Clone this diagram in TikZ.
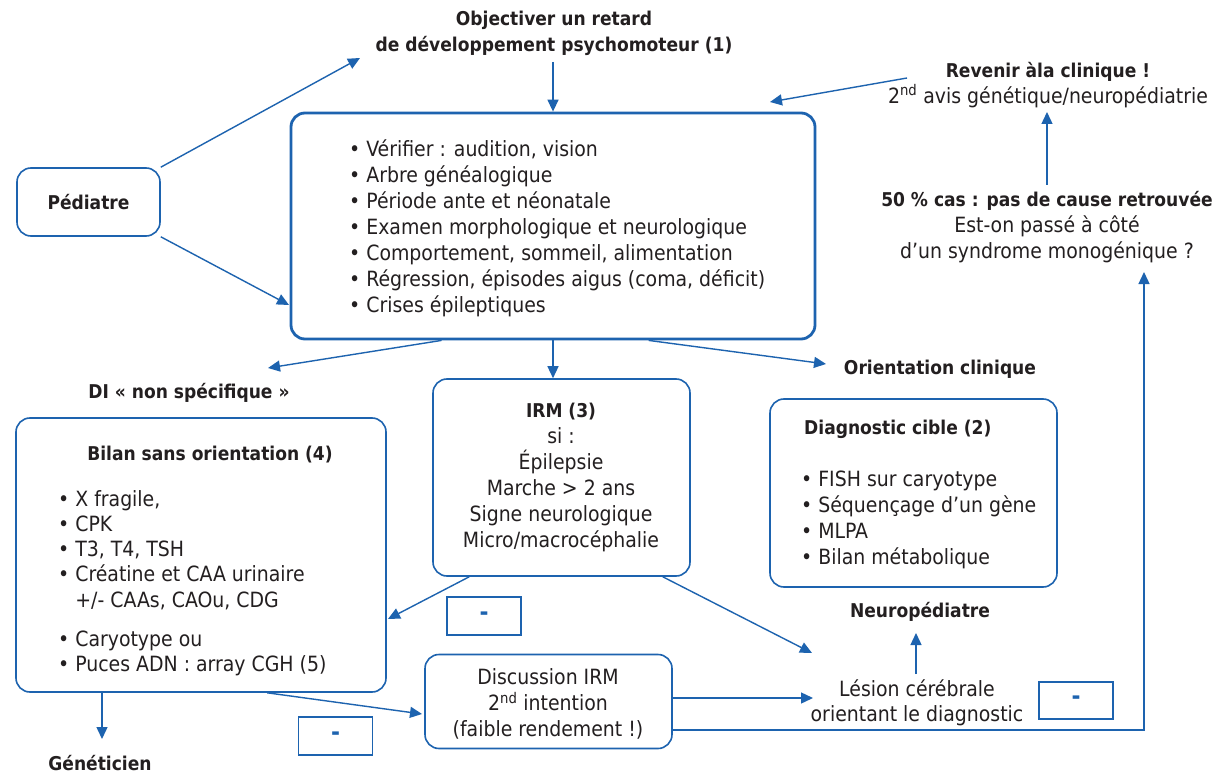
\documentclass[tikz,border=0pt]{standalone}
\usepackage{fontspec}
\setmainfont{DejaVu Sans Condensed}
\usetikzlibrary{arrows.meta,calc}
\definecolor{lineblue}{HTML}{1D63AF}
\definecolor{ink}{HTML}{231F20}
\begin{document}
\begin{tikzpicture}[x=1pt,y=-1pt,
  every node/.style={text=ink, inner sep=0pt, font=\fontsize{21}{26}\selectfont},
  conn/.style={draw=lineblue, line width=1.4pt, -{Triangle[length=12pt,width=11pt]}},
  roundbox/.style={draw=lineblue, line width=1.6pt, rounded corners=14pt},
  minusbox/.style={draw=lineblue, line width=1.6pt, minimum width=74pt, minimum height=38pt,
    text=lineblue, font=\bfseries\fontsize{24}{26}\selectfont},
  hd/.style={font=\bfseries\fontsize{19}{26}\selectfont},
]
\useasboundingbox (0,0) rectangle (1216,773);
\fill[white] (0,0) rectangle (1216,773);

% ---------- boxes ----------
\node[roundbox, line width=2.8pt, minimum width=524pt, minimum height=226pt] (main) at (553,226) {};
\node[roundbox, minimum width=143pt, minimum height=68pt] (ped) at (88.5,202) {};
\node[roundbox, minimum width=370pt, minimum height=274pt] (bilan) at (201,555) {};
\node[roundbox, minimum width=257pt, minimum height=197pt] (irm) at (561.5,477.5) {};
\node[roundbox, minimum width=287pt, minimum height=188pt] (diag) at (913.5,493) {};
\node[roundbox, minimum width=247pt, minimum height=94pt] (disc) at (548.5,701.5) {};
\node[minusbox] (m1) at (484,616) {-};
\node[minusbox] (m2) at (335.5,736) {-};
\node[minusbox, minimum height=37pt] (m3) at (1076,700.5) {-};

% ---------- texts ----------
\node[hd, align=center] (title) at (554,33.5) {Objectiver un retard\\de développement psychomoteur (1)};
\node[hd] (pedtxt) at (ped.center) {Pédiatre};
\node[align=left, anchor=west] (mainlist) at (349,228) {%
  • Vérifier : audition, vision\\
  • Arbre généalogique\\
  • Période ante et néonatale\\
  • Examen morphologique et neurologique\\
  • Comportement, sommeil, alimentation\\
  • Régression, épisodes aigus (coma, déficit)\\
  • Crises épileptiques};
\node[align=center] (revenir) at (1048,85) {\textbf{\fontsize{19}{26}\selectfont Revenir àla clinique !}\\2\textsuperscript{nd} avis génétique/neuropédiatrie};
\node[align=center] (cas) at (1047,227.5) {\textbf{\fontsize{19}{26}\selectfont 50 \% cas : pas de cause retrouvée}\\Est-on passé à côté\\d’un syndrome monogénique ?};
\node[hd] (di) at (189,393) {DI « non spécifique »};
\node[hd] (orient) at (940,369) {Orientation clinique};

\node[hd] (bilantitle) at (210,455) {Bilan sans orientation (4)};
\node[align=left, anchor=west, font=\fontsize{21}{25.2}\selectfont] (bilanlist) at (58,550) {%
  • X fragile,\\
  • CPK\\
  • T3, T4, TSH\\
  • Créatine et CAA urinaire\\
  \phantom{• }+/- CAAs, CAOu, CDG};
\node[align=left, anchor=west, font=\fontsize{21}{25}\selectfont] (bilanlist2) at (58,653.5) {%
  • Caryotype ou\\
  • Puces ADN : array CGH (5)};

\node[align=center] (irmtxt) at (561,477.5) {\textbf{\fontsize{19}{26}\selectfont IRM (3)}\\si :\\Épilepsie\\Marche > 2 ans\\Signe neurologique\\Micro/macrocéphalie};

\node[hd, anchor=west] (diagtitle) at (804,429) {Diagnostic cible (2)};
\node[align=left, anchor=west] (diaglist) at (801,520) {%
  • FISH sur caryotype\\
  • Séquençage d’un gène\\
  • MLPA\\
  • Bilan métabolique};

\node[hd] (neuro) at (920,612) {Neuropédiatre};
\node[align=center, font=\fontsize{21}{25}\selectfont] (lesion) at (917,703) {Lésion cérébrale\\orientant le diagnostic};
\node[align=center] (disctxt) at (548,704) {Discussion IRM\\2\textsuperscript{nd} intention\\(faible rendement !)};
\node[hd] (genet) at (100,763) {Généticien};

% ---------- connectors ----------
\coordinate (toTitle) at (360,58);
\coordinate (toMain) at (289,305);
\coordinate (toGenet) at (102,739);
\draw[conn] (ped.north east) -- (toTitle);
\draw[conn] (ped.south east) -- (toMain);
\draw[conn] (553,62) -- (main.north);
\draw[conn] (907,78) -- (770,102);
\draw[conn] (1047,185) -- (1047,112);
\draw[conn] ($(main.south west)+(152,0)$) -- (268,368);
\draw[conn] (main.south) -- (main.south |- irm.north);
\draw[conn] ($(main.south west)+(359,0)$) -- (826,364);
\draw[conn] ($(irm.south west)+(37,0)$) -- (388,619);
\draw[conn] ($(irm.south east)+(-28,0)$) -- (812,653);
\draw[conn] (bilan.south west -| toGenet) -- (toGenet);
\draw[conn] ($(bilan.south west)+(252,0)$) -- (422,714);
\draw[conn] ($(disc.east)+(0,-3.5)$) -- (813,698);
\draw[conn] ($(disc.east)+(0,28.5)$) -| (1144,272);
\draw[conn] (916,674) -- (916,633);
\end{tikzpicture}
\end{document}
